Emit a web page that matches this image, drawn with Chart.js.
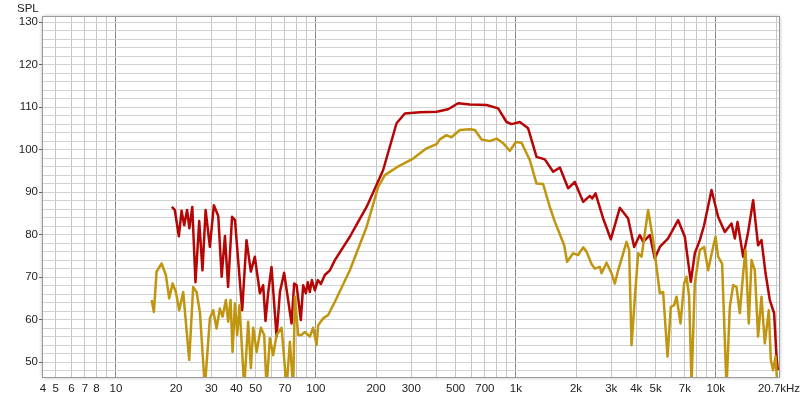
<!DOCTYPE html>
<html>
<head>
<meta charset="utf-8">
<script src="https://cdn.jsdelivr.net/npm/chart.js@4.4.1/dist/chart.umd.min.js"></script>
<style>
  html, body { margin: 0; padding: 0; background: #fff; }
  #wrap { width: 800px; height: 400px; }
</style>
</head>
<body>
<div id="wrap"><canvas id="splChart"></canvas></div>
<script>
// respuesta en frecuencia - curva roja (Hz / dB)
const redFreq = [
  19.05, 19.7, 20.65, 21.3, 21.96, 22.7, 23.3, 24.1, 25.0, 26.1,
  27.1, 28.1, 29.5, 30.9, 32.5, 33.8, 35.1, 36.4, 38.1, 39.4,
  40.9, 42.8, 45.0, 47.3, 49.5, 52.5, 54.5, 56.0, 57.7, 60.0,
  63.6, 66.1, 69.4, 75.6, 77.9, 80.1, 84.1, 86.4, 89.1, 91.2,
  93.3, 95.5, 98.9, 102.3, 105.9, 110.9, 117.5, 124.5, 147.9, 162.7,
  179.3, 197.2, 217, 253.2, 278.6, 331, 401.5, 458.6, 514.6, 588.8,
  713.8, 815.7, 898.4, 951.7, 1047, 1152, 1269, 1396, 1537, 1660,
  1826, 1972, 2171, 2344, 2407, 2503, 2733, 2985, 3311, 3644,
  3905, 4169, 4330, 4677, 4955, 5248, 5775, 6480, 6998, 7499,
  7852, 8318, 8740, 9517, 10270, 11090, 11980, 12450, 12840, 13700,
  14510, 15370, 16270, 16920, 17730, 18620, 19570, 20120, 20420
];
const redLevel = [
  86.5, 85.8, 79.6, 85.6, 82.2, 85.8, 81.5, 86.5, 68.8, 83.2,
  71.6, 85.8, 77.1, 86.9, 84.4, 70.1, 79.7, 67.7, 84.2, 83.4,
  73.8, 62.2, 78.7, 71.3, 74.8, 66.2, 68.1, 59.7, 66.2, 72.4,
  56.0, 66.5, 71.0, 59.1, 68.5, 68.1, 59.9, 68.1, 66.2, 68.8,
  66.5, 69.3, 66.9, 69.3, 68.4, 70.5, 71.6, 74.0, 79.5, 83.0,
  86.5, 90.8, 95.2, 106.2, 108.5, 108.8, 108.9, 109.5, 110.9, 110.6,
  110.5, 109.7, 106.5, 106.0, 106.5, 105.0, 98.3, 97.7, 94.8, 95.8,
  90.9, 92.4, 87.7, 89.1, 88.5, 89.7, 83.8, 78.9, 86.3, 83.8,
  77.1, 79.9, 78.3, 79.9, 74.4, 77.1, 79.1, 83.4, 79.5, 68.9,
  75.6, 78.7, 82.2, 90.5, 84.2, 80.6, 82.6, 79.1, 83.0, 74.8,
  80.6, 88.1, 77.5, 78.7, 70.9, 64.6, 61.5, 51.3, 48.1
];

// curva dorada
const goldFreq = [
  15.09, 15.49, 15.98, 16.92, 17.78, 18.47, 19.21, 19.95, 20.73, 21.71,
  23.26, 24.35, 25.32, 26.3, 27.86, 29.51, 30.66, 31.88, 33.11, 34.16,
  35.48, 36.43, 37.45, 38.32, 39.36, 40.42, 41.5, 43.81, 45.87, 47.32,
  48.59, 50.53, 53.09, 55.14, 56.69, 58.88, 61.16, 63.6, 67.38, 71.37,
  74.13, 77.0, 78.52, 81.55, 84.8, 88.1, 93.3, 96.9, 100.8, 102.7,
  108.8, 115.2, 124.5, 147.9, 179.3, 204.9, 221.3, 253.2, 306.6, 357.8,
  401.5, 416.9, 450.3, 476.9, 524.8, 588.8, 623.7, 673.9, 741.3, 800.9,
  864.4, 933.3, 1000, 1068, 1175, 1269, 1369, 1479, 1567, 1628,
  1744, 1805, 1934, 2049, 2171, 2257, 2391, 2483, 2630, 2683,
  2842, 3010, 3126, 3248, 3578, 3686, 3789, 3936, 4089, 4251,
  4587, 4859, 5248, 5452, 5735, 5957, 6188, 6361, 6661, 6944,
  7138, 7355, 7560, 7852, 8318, 8740, 9152, 9694, 9966, 10270,
  10750, 11310, 11750, 12210, 12690, 13180, 13700, 14080, 14620, 15090,
  15670, 16270, 16920, 17580, 18410, 18840, 19340, 19890, 20350
];
const goldLevel = [
  64.6, 61.8, 71.3, 73.2, 70.5, 65.0, 68.5, 66.5, 62.2, 66.5,
  50.5, 67.7, 66.5, 61.8, 44, 60.3, 62.2, 57.9, 62.6, 60.7,
  64.6, 59.5, 64.6, 52.4, 63.8, 56.4, 63.4, 44, 59.5, 48.6,
  58.1, 52.4, 58.1, 56.4, 44, 55.6, 51.6, 56.4, 58.1, 44,
  54.8, 44, 65.4, 56.4, 56.4, 57.1, 56.0, 58.1, 54.0, 58.7,
  60.3, 61.1, 64.2, 71.6, 81.8, 91.2, 94.0, 95.8, 97.9, 100.3,
  101.3, 102.4, 103.4, 102.9, 104.6, 104.8, 104.6, 102.4, 102.0, 102.6,
  101.5, 99.7, 101.8, 101.6, 97.5, 92.0, 91.9, 86.5, 83.0, 81.1,
  77.5, 73.6, 75.6, 75.2, 77.0, 76.0, 73.1, 72.0, 72.4, 70.9,
  73.4, 70.9, 68.5, 71.6, 78.3, 76.4, 54.0, 65.1, 75.6, 74.8,
  85.8, 78.7, 66.2, 66.5, 51.3, 63.0, 63.4, 65.4, 59.1, 68.5,
  70.1, 65.4, 45, 68.5, 76.4, 77.1, 71.6, 77.1, 79.5, 74.8,
  73.2, 44, 63.0, 68.1, 67.7, 61.5, 70.9, 76.4, 59.1, 74.0,
  71.6, 56.0, 65.4, 54.4, 62.2, 50.5, 48.1, 51.3, 44
];

// ejes
const freqMin = 4.32;
const freqMax = 20700;
const splMin = 46.5;
const splMax = 131.2;
const freqLabels = [5, 6, 7, 8, 10, 20, 30, 40, 50, 70, 100, 200, 300, 500, 700,
  1000, 2000, 3000, 4000, 5000, 7000, 10000];
const splLabels = [50, 60, 70, 80, 90, 100, 110, 120, 130];

// lineas de la grilla: 1..9 por decada, cada 2 dB
const freqGrid = [freqMin];
for (let d = 0; d <= 4; d++) {
  for (let m = 1; m <= 9; m++) {
    const v = m * Math.pow(10, d);
    if (v > freqMin && v < freqMax) freqGrid.push(v);
  }
}
freqGrid.push(freqMax);
const splGrid = [];
for (let v = 48; v <= 130; v += 2) splGrid.push(v);

function freqText(v) {
  if (v === freqMin) return '4';
  if (v === freqMax) return '20.7kHz';
  if (!freqLabels.includes(v)) return '';
  return v >= 1000 ? (v / 1000) + 'k' : String(v);
}

function isDecade(v) {
  const l = Math.log10(v);
  return Math.abs(l - Math.round(l)) < 1e-9;
}

const fontAxis = { family: '"Liberation Sans", Arial, sans-serif', size: 11.5 };

// marco con sombra y titulo SPL
const marco = {
  id: 'marco',
  beforeDraw(chart) {
    const { ctx, chartArea: a } = chart;
    ctx.save();
    ctx.fillStyle = '#fff';
    ctx.fillRect(0, 0, chart.width, chart.height);
    ctx.shadowColor = 'rgba(0,0,0,0.45)';
    ctx.shadowBlur = 4;
    ctx.fillRect(a.left, a.top, a.right - a.left, a.bottom - a.top);
    ctx.restore();
  },
  afterDraw(chart) {
    const { ctx, chartArea: a } = chart;
    ctx.save();
    ctx.strokeStyle = '#9a9a9a';
    ctx.lineWidth = 1;
    ctx.strokeRect(a.left - 0.5, a.top - 0.5, a.right - a.left + 1, a.bottom - a.top + 1);
    ctx.fillStyle = '#222';
    ctx.font = '11.5px "Liberation Sans", Arial, sans-serif';
    ctx.textBaseline = 'middle';
    ctx.fillText('SPL', 17, 9);
    ctx.restore();
  }
};

new Chart(document.getElementById('splChart').getContext('2d'), {
  type: 'line',
  data: {
    datasets: [
      {
        label: 'dorada',
        data: goldFreq.map((f, i) => ({ x: f, y: goldLevel[i] })),
        borderColor: '#c0950f',
        borderWidth: 2.5,
        clip: 0
      },
      {
        label: 'roja',
        data: redFreq.map((f, i) => ({ x: f, y: redLevel[i] })),
        borderColor: '#b50505',
        borderWidth: 2.5,
        clip: 0
      }
    ]
  },
  options: {
    responsive: true,
    maintainAspectRatio: false,
    animation: false,
    parsing: false,
    layout: { padding: { left: 0, right: 21, top: 17, bottom: 0 } },
    elements: { point: { radius: 0 }, line: { tension: 0, borderJoinStyle: 'round' } },
    plugins: { legend: { display: false }, tooltip: { enabled: false } },
    scales: {
      x: {
        type: 'logarithmic',
        min: freqMin,
        max: freqMax,
        afterBuildTicks: s => { s.ticks = freqGrid.map(v => ({ value: v })); },
        afterFit: s => { s.height = 23; s.paddingLeft = 0; s.paddingRight = 0; },
        border: { display: false },
        grid: {
          drawTicks: false,
          lineWidth: 1,
          color: c => {
            const v = c.tick && c.tick.value;
            if (v === freqMin || v === freqMax) return 'rgba(0,0,0,0)';
            return isDecade(v) ? '#8a8a8a' : '#c6c6c6';
          }
        },
        ticks: {
          autoSkip: false,
          maxRotation: 0,
          minRotation: 0,
          padding: 5,
          color: '#222',
          font: fontAxis,
          callback: v => freqText(v)
        }
      },
      y: {
        min: splMin,
        max: splMax,
        afterBuildTicks: s => { s.ticks = splGrid.map(v => ({ value: v })); },
        afterFit: s => { s.width = 43; s.paddingTop = 0; s.paddingBottom = 0; },
        border: { display: false },
        grid: {
          lineWidth: 1,
          color: '#d2d2d2',
          tickLength: 4,
          tickColor: c => (c.tick && c.tick.value % 10 === 0) ? '#666' : 'rgba(0,0,0,0)'
        },
        ticks: {
          autoSkip: false,
          padding: 1,
          color: '#222',
          font: fontAxis,
          callback: v => splLabels.includes(v) ? String(v) : ''
        }
      }
    }
  },
  plugins: [marco]
});
</script>
</body>
</html>
